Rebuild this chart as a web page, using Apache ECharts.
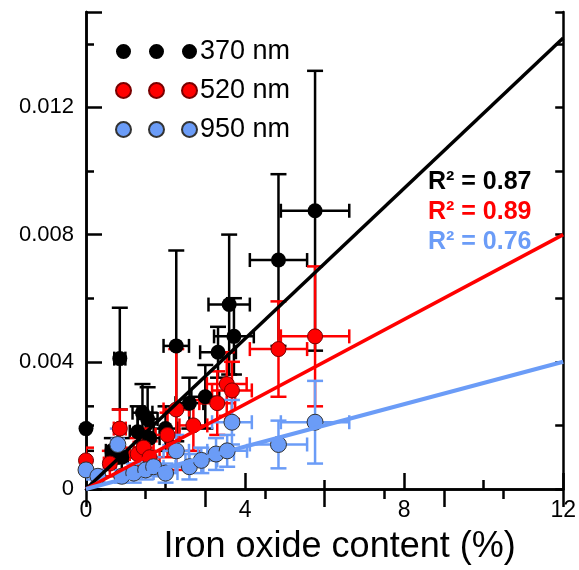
<!DOCTYPE html>
<html><head><meta charset="utf-8">
<script src="https://cdn.jsdelivr.net/npm/echarts@6/dist/echarts.min.js"></script>
<style>html,body{margin:0;padding:0;background:#fff}#c{width:579px;height:570px}</style>
</head><body><div id="c"></div>
<script>
// ---- data ----
const xTicks = [0, 4, 8, 12];
const yTicks = [0, 0.004, 0.008, 0.012];

const xBlack  = [0.0, 0.85, 0.65, 0.9, 1.3, 1.42, 1.55, 1.6, 2.0, 2.27, 2.6, 3.0, 3.32, 3.6, 3.72, 4.84, 5.76];
const yBlack  = [0.0019, 0.0041, 0.0012, 0.0010, 0.0018, 0.0024, 0.0022, 0.0016, 0.0019, 0.0045, 0.0027, 0.0029, 0.0043, 0.0058, 0.0048, 0.0072, 0.00875];
const xeBlack = [0.05, 0.14, 0.15, 0.15, 0.2, 0.25, 0.25, 0.25, 0.3, 0.32, 0.35, 0.35, 0.45, 0.52, 0.5, 0.72, 0.86];
const yeBlack = [0.0007, 0.0016, 0.0004, 0.0006, 0.0008, 0.0009, 0.0010, 0.0008, 0.0007, 0.0030, 0.0008, 0.0010, 0.0008, 0.0022, 0.0012, 0.0027, 0.0044];

const xRed  = [0.0, 0.85, 0.6, 1.3, 1.45, 1.6, 2.05, 2.27, 2.7, 3.3, 3.54, 3.67, 4.84, 5.76];
const yRed  = [0.0009, 0.0019, 0.0008, 0.0011, 0.0013, 0.0010, 0.0017, 0.0025, 0.0020, 0.0027, 0.0033, 0.0031, 0.0044, 0.0048];
const xeRed = [0.05, 0.15, 0.15, 0.2, 0.25, 0.25, 0.3, 0.32, 0.35, 0.45, 0.5, 0.5, 0.72, 0.86];
const yeRed = [0.0004, 0.0006, 0.0004, 0.0005, 0.0006, 0.0005, 0.0007, 0.0019, 0.0008, 0.0010, 0.0010, 0.0009, 0.0015, 0.0022];

const xBlue  = [0.0, 0.3, 0.8, 0.9, 1.2, 1.5, 1.7, 2.0, 2.27, 2.6, 2.9, 3.27, 3.55, 3.67, 4.84, 5.76];
const yBlue  = [0.0006, 0.0004, 0.0014, 0.0004, 0.0005, 0.0006, 0.0007, 0.0005, 0.0012, 0.0007, 0.0009, 0.0011, 0.0012, 0.0021, 0.0014, 0.0021];
const xeBlue = [0.05, 0.1, 0.15, 0.15, 0.2, 0.25, 0.25, 0.3, 0.32, 0.35, 0.4, 0.45, 0.5, 0.5, 0.72, 0.86];
const yeBlue = [0.0003, 0.0002, 0.0005, 0.0002, 0.0003, 0.0003, 0.0003, 0.0003, 0.0005, 0.0004, 0.0004, 0.0005, 0.0005, 0.0007, 0.00075, 0.0013];

const fitBlack = [[0, 0], [12, 0.01418]];
const fitRed   = [[0, 0], [12, 0.0080]];
const fitBlue  = [[0, 0], [12, 0.0040]];

const names = ['370 nm', '520 nm', '950 nm'];
const r2Labels = ['R\u00B2 = 0.87', 'R\u00B2 = 0.89', 'R\u00B2 = 0.76'];

// ---- styles ----
const BLACK = '#000000', RED = '#ff0000', BLUE = '#6b9cf7';
const FONT = '"Liberation Sans", Arial, sans-serif';

function pack(xs, ys, xe, ye) { return xs.map((x, i) => [x, ys[i], xe[i], ye[i]]); }

function errBar(name, color, data) {
  return {
    type: 'custom', name: name, data: data, clip: true,
    encode: { x: 0, y: 1 },
    renderItem: function (params, api) {
      const x = api.value(0), y = api.value(1), ex = api.value(2), ey = api.value(3);
      const l = api.coord([x - ex, y]), r = api.coord([x + ex, y]);
      const t = api.coord([x, y + ey]), b = api.coord([x, y - ey]);
      const hc = 8, vc = 7;
      const st = { stroke: color, lineWidth: 2.5 };
      const ln = (x1, y1, x2, y2) => ({ type: 'line', shape: { x1, y1, x2, y2 }, style: st });
      return {
        type: 'group', children: [
          ln(l[0], l[1], r[0], r[1]),
          ln(t[0], t[1], b[0], b[1]),
          ln(l[0], l[1] - vc, l[0], l[1] + vc),
          ln(r[0], r[1] - vc, r[0], r[1] + vc),
          ln(t[0] - hc, t[1], t[0] + hc, t[1]),
          ln(b[0] - hc, b[1], b[0] + hc, b[1])
        ]
      };
    },
    z: 2
  };
}

function scatter(name, color, border, size, data) {
  return {
    type: 'scatter', name: name, data: data.map(d => [d[0], d[1]]),
    symbol: 'circle', symbolSize: size,
    itemStyle: { color: color, borderColor: border, borderWidth: border ? 1 : 0, opacity: 1 },
    z: 3
  };
}

function fit(color, width, data) {
  return {
    type: 'line', data: data, symbol: 'none', silent: true,
    lineStyle: { color: color, width: width }, z: 4
  };
}

const chart = echarts.init(document.getElementById('c'), null, { renderer: 'canvas' });

const axisLine = { show: true, lineStyle: { color: '#000', width: 2.5 } };
const legendIcon = 'path://M0,7.5a7.5,7.5 0 1,0 15,0a7.5,7.5 0 1,0 -15,0M33,7.5a7.5,7.5 0 1,0 15,0a7.5,7.5 0 1,0 -15,0M66,7.5a7.5,7.5 0 1,0 15,0a7.5,7.5 0 1,0 -15,0';

const option = {
  backgroundColor: '#fff',
  animation: false,
  grid: { left: 86, right: 12, top: 12, bottom: 78, containLabel: false },
  xAxis: [
    {
      type: 'value', position: 'bottom', min: 0, max: 12, interval: 4,
      axisLine: axisLine,
      axisTick: { inside: true, length: 16, lineStyle: { color: '#000', width: 2.5 } },
      minorTick: { show: true, splitNumber: 2, length: 9, lineStyle: { color: '#000', width: 2.5 } },
      splitLine: { show: false },
      axisLabel: { color: '#000', fontSize: 23, fontFamily: FONT, margin: 10,
        formatter: v => (xTicks.indexOf(v) >= 0 ? String(v) : '') },
      name: 'Iron oxide content (%)', nameLocation: 'middle', nameGap: 40,
      nameTextStyle: { color: '#000', fontSize: 36, fontFamily: FONT, padding: [0, 0, 0, 30] }
    },
    {
      type: 'value', position: 'top', min: 0, max: 12, interval: 3,
      axisLine: axisLine,
      axisTick: { inside: true, length: 18, lineStyle: { color: '#000', width: 2.5 } },
      minorTick: { show: true, splitNumber: 2, length: 10, lineStyle: { color: '#000', width: 2.5 } },
      splitLine: { show: false }, axisLabel: { show: false }
    }
  ],
  yAxis: [
    {
      type: 'value', position: 'left', min: 0, max: 0.015, interval: 0.004,
      axisLine: axisLine,
      axisTick: { inside: true, length: 16, lineStyle: { color: '#000', width: 2.5 } },
      splitLine: { show: false },
      axisLabel: { color: '#000', fontSize: 22, fontFamily: FONT, margin: 12,
        formatter: function (v) {
          const k = yTicks.findIndex(t => Math.abs(t - v) < 1e-9);
          return k >= 0 ? (yTicks[k] === 0 ? '0' : yTicks[k].toFixed(3)) : '';
        } }
    },
    {
      type: 'value', position: 'left', min: 0, max: 0.015, interval: 0.002,
      axisLine: axisLine,
      axisTick: { inside: true, length: 8, lineStyle: { color: '#000', width: 2.5 } },
      splitLine: { show: false }, axisLabel: { show: false }
    },
    {
      type: 'value', position: 'right', min: 0, max: 0.015, interval: 0.002,
      axisLine: axisLine,
      axisTick: { inside: true, length: 8, lineStyle: { color: '#000', width: 2.5 } },
      splitLine: { show: false }, axisLabel: { show: false }
    }
  ],
  legend: {
    data: names, orient: 'vertical', left: 110, top: 33,
    itemWidth: 81, itemHeight: 15, itemGap: 12, selectedMode: false,
    icon: legendIcon,
    textStyle: { color: '#000', fontSize: 27, fontFamily: FONT, padding: [0, 0, 0, -2] }
  },
  graphic: [
    { type: 'text', left: 428, top: 170, style: { text: r2Labels[0], fill: BLACK, font: 'bold 25px ' + FONT } },
    { type: 'text', left: 428, top: 200, style: { text: r2Labels[1], fill: RED, font: 'bold 25px ' + FONT } },
    { type: 'text', left: 428, top: 230, style: { text: r2Labels[2], fill: BLUE, font: 'bold 25px ' + FONT } }
  ],
  series: [
    errBar('eb370', BLACK, pack(xBlack, yBlack, xeBlack, yeBlack)),
    scatter(names[0], BLACK, null, 15, pack(xBlack, yBlack, xeBlack, yeBlack)),
    fit(BLACK, 3.5, fitBlack),
    errBar('eb520', RED, pack(xRed, yRed, xeRed, yeRed)),
    scatter(names[1], RED, '#7a0000', 15, pack(xRed, yRed, xeRed, yeRed)),
    fit(RED, 3.5, fitRed),
    errBar('eb950', BLUE, pack(xBlue, yBlue, xeBlue, yeBlue)),
    scatter(names[2], BLUE, '#333333', 16, pack(xBlue, yBlue, xeBlue, yeBlue)),
    fit(BLUE, 4, fitBlue)
  ]
};
chart.setOption(option);
</script>
</body></html>
